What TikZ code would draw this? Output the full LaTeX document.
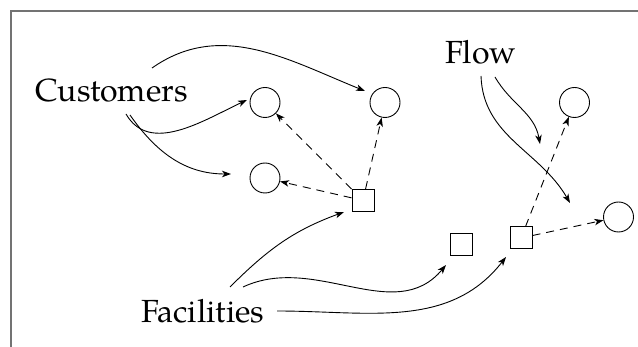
\documentclass[tikz,border=0pt]{standalone}
\usepackage{fontspec}
\setmainfont{TeX Gyre Pagella}
\usetikzlibrary{arrows.meta}
\begin{document}
\begin{tikzpicture}[x=1pt,y=1pt,
  lbl/.style={inner sep=0pt,anchor=base west,font=\fontsize{32}{38}\selectfont},
  cust/.style={circle,draw,line width=0.9pt,minimum size=30pt,inner sep=0pt},
  fac/.style={rectangle,draw,line width=1pt,minimum size=22pt,inner sep=0pt},
  tip/.style={-{Stealth[length=9pt,width=6.5pt,inset=2.5pt]}},
  flowarrow/.style={tip,line width=0.9pt},
  dasharrow/.style={tip,line width=0.9pt,dash pattern=on 8pt off 6pt}]
\useasboundingbox (0,0) rectangle (638,-347);
% frame
\draw[black!55,line width=1.2pt] (11,-347) -- (11,-11) -- (638,-11);
% labels
\node[lbl] (customers) at (35,-102) {Customers};
\node[lbl] (flow) at (445,-64) {Flow};
\node[lbl] (facilities) at (141,-323) {Facilities};
% customers
\node[cust] (c1) at (265,-102.5) {};
\node[cust] (c2) at (385,-102.5) {};
\node[cust] (c3) at (265,-178) {};
\node[cust] (c4) at (574.5,-102.5) {};
\node[cust] (c5) at (618.5,-217) {};
% facilities
\node[fac] (s1) at (363,-200.5) {};
\node[fac] (s2) at (461,-245) {};
\node[fac] (s3) at (521,-238) {};
% assignment (dashed)
\draw[dasharrow] (s1) -- (c1);
\draw[dasharrow] (s1) -- (c2);
\draw[dasharrow] (s1) -- (c3);
\draw[dasharrow] (s3) -- (c4);
\draw[dasharrow] (s3) -- (c5);
% free ends
\coordinate (cu1) at (152,-68);
\coordinate (cu2) at (126,-114);
\coordinate (cu3) at (130,-115);
\coordinate (e1) at (365,-91);
\coordinate (e2) at (247,-100);
\coordinate (e3) at (231,-174);
\coordinate (fl1) at (495,-77);
\coordinate (fl2) at (481,-76);
\coordinate (e4) at (540,-144);
\coordinate (e5) at (570,-203);
\coordinate (fa1) at (230,-287);
\coordinate (fa2) at (243,-287);
\coordinate (fa3) at (277,-311);
\coordinate (e6) at (344,-212);
\coordinate (e7) at (446,-265);
\coordinate (e8) at (506,-257);
% customer arrows
\draw[flowarrow] (cu1) to[out=35,in=158] (e1);
\draw[flowarrow] (cu2) to[out=-60,in=-155] (e2);
\draw[flowarrow] (cu3) to[out=-55,in=180] (e3);
% flow arrows
\draw[flowarrow] (fl1) to[out=-60,in=100] (e4);
\draw[flowarrow] (fl2) to[out=-88,in=120] (e5);
% facility arrows
\draw[flowarrow] (fa1) to[out=45,in=-160] (e6);
\draw[flowarrow] (fa2) to[out=25,in=-130] (e7);
\draw[flowarrow] (fa3) to[out=0,in=-128] (e8);
\end{tikzpicture}
\end{document}
